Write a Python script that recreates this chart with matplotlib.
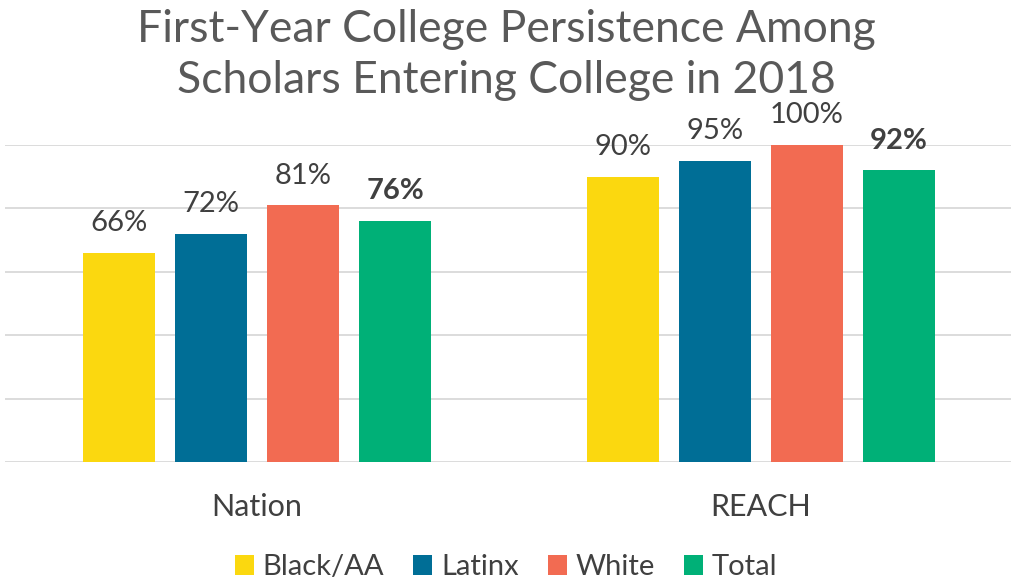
import numpy as np
import matplotlib.pyplot as plt

plt.rcParams['font.family'] = ['Lato', 'DejaVu Sans']

groups = ['Nation', 'REACH']
series = ['Black/AA', 'Latinx', 'White', 'Total']
values = {
    'Black/AA': [66, 90],
    'Latinx': [72, 95],
    'White': [81, 100],
    'Total': [76, 92],
}
colors = ['#FBD80F', '#006E96', '#F26B52', '#00B077']

fig = plt.figure(figsize=(10.12, 5.86), dpi=100)
ax = fig.add_axes([0.005, 0.2116, 0.996, 0.541])

x = np.arange(len(groups))
step = 0.1825
width = 0.143

for i, (name, c) in enumerate(zip(series, colors)):
    pos = x + (i - 1.5) * step
    bars = ax.bar(pos, values[name], width, color=c, label=name, zorder=3)
    for b, v in zip(bars, values[name]):
        ax.annotate(f'{v}%', (b.get_x() + b.get_width() / 2, v),
                    xytext=(0, 12), textcoords='offset points',
                    ha='center', va='bottom', fontsize=21, color='#404040',
                    fontweight='bold' if name == 'Total' else 'normal',
                    annotation_clip=False)

ax.set_xlim(-0.5, 1.5)
ax.set_ylim(0, 100)
ax.set_yticks(np.arange(0, 101, 20))
ax.yaxis.grid(True, color='#D9D9D9', linewidth=1.3, zorder=0)
ax.tick_params(left=False, labelleft=False, bottom=False)
ax.set_xticks(x)
ax.set_xticklabels(groups, fontsize=22, color='#404040')
ax.tick_params(axis='x', pad=19)
for s in ax.spines.values():
    s.set_visible(False)

fig.suptitle('First-Year College Persistence Among\nScholars Entering College in 2018',
             fontsize=32, color='#595959', y=0.985, linespacing=1.3)

fig.legend(loc='lower center', ncol=4, frameon=False, fontsize=21,
           handlelength=0.65, handleheight=0.65, handletextpad=0.3,
           columnspacing=1.0, bbox_to_anchor=(0.5, -0.035),
           labelcolor='#404040')

fig.savefig('out.png', dpi=100)
